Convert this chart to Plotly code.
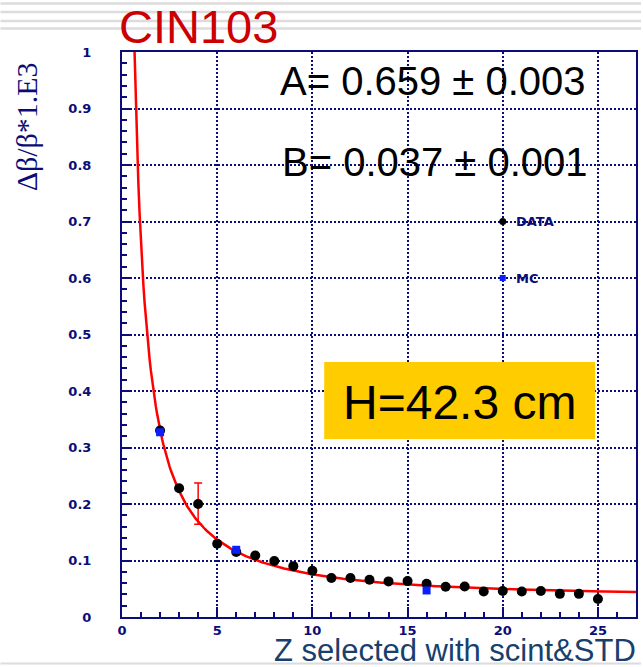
import numpy as np
import plotly.graph_objects as go

# Measured resolution vs charge Z
data_z = [2, 3, 4, 5, 6, 7, 8, 9, 10, 11, 12, 13, 14, 15, 16, 17, 18, 19, 20, 21, 22, 23, 24, 25]
data_res = [0.330, 0.228, 0.200, 0.1295, 0.115, 0.109, 0.099, 0.090, 0.082, 0.069, 0.069, 0.066,
            0.063, 0.0635, 0.059, 0.0535, 0.054, 0.045, 0.046, 0.045, 0.046, 0.041, 0.041, 0.032]
data_err_hi = [0, 0, 0.037, 0, 0, 0, 0, 0, 0, 0, 0, 0, 0, 0, 0, 0, 0, 0, 0, 0, 0, 0, 0, 0]
data_err_lo = [0, 0, 0.036, 0, 0, 0, 0, 0, 0, 0, 0, 0, 0, 0, 0, 0, 0, 0, 0, 0, 0, 0, 0, 0]

# Monte Carlo points
mc_z = [2, 6, 16]
mc_res = [0.327, 0.119, 0.047]

# Fit parameters: sigma = sqrt((A/Z)^2 + B^2)
fit_A, fit_A_err = 0.659, 0.003
fit_B, fit_B_err = 0.037, 0.001

x_tickvals = [0, 5, 10, 15, 20, 25]
x_ticktext = ["0", "5", "10", "15", "20", "25"]
y_tickvals = [0, 0.1, 0.2, 0.3, 0.4, 0.5, 0.6, 0.7, 0.8, 0.9, 1.0]
y_ticktext = ["0", "0.1", "0.2", "0.3", "0.4", "0.5", "0.6", "0.7", "0.8", "0.9", "1"]

NAVY = "#0c0c78"
W, H = 643, 667
ML, MR, MT, MB = 122, 5, 52, 50
PW, PH = W - ML - MR, H - MT - MB


def px(xp):
    return (xp - ML) / PW


def py(yp):
    return (H - MB - yp) / PH


z_fit = np.linspace(fit_A, 27, 400)
res_fit = np.sqrt((fit_A / z_fit) ** 2 + fit_B ** 2)

fig = go.Figure()

fig.add_trace(go.Scatter(x=z_fit, y=res_fit, mode="lines",
                         line=dict(color="#ff0000", width=2.5), hoverinfo="skip"))

fig.add_trace(go.Scatter(
    x=data_z, y=data_res, mode="markers",
    marker=dict(color="black", size=10),
    error_y=dict(type="data", symmetric=False, array=data_err_hi, arrayminus=data_err_lo,
                 color="#ff0000", thickness=1.5, width=4),
))

fig.add_trace(go.Scatter(x=mc_z, y=mc_res, mode="markers",
                         marker=dict(color="#0a1eff", size=8, symbol="square")))

# key markers
fig.add_trace(go.Scatter(x=[20], y=[0.7], mode="markers", marker=dict(color="black", size=7)))
fig.add_trace(go.Scatter(x=[20], y=[0.6], mode="markers",
                         marker=dict(color="#0a1eff", size=6, symbol="square")))

tick_font = dict(family="DejaVu Sans, sans-serif", size=13, color=NAVY, weight="bold")

axis_common = dict(
    showline=True, mirror=True, linecolor=NAVY, linewidth=2,
    showgrid=True, gridcolor=NAVY, griddash="2px,2px", gridwidth=2,
    zeroline=False, ticks="inside", tickcolor=NAVY, tickwidth=1.5,
)

fig.update_xaxes(range=[0, 27], tickmode="array", tickvals=x_tickvals, ticktext=x_ticktext,
                 ticklen=10, tickfont=tick_font,
                 minor=dict(ticks="inside", dtick=1, ticklen=5, tickcolor=NAVY, showgrid=False),
                 ticklabelstandoff=0, **axis_common)
fig.update_yaxes(range=[0, 1.0], tickmode="array", tickvals=y_tickvals, ticktext=y_ticktext,
                 ticklen=8, tickfont=tick_font,
                 minor=dict(ticks="inside", dtick=0.02, ticklen=5, tickcolor=NAVY, showgrid=False),
                 ticklabelstandoff=26, **axis_common)

shapes = []
# slide rule lines
for yp in [3.5, 12, 21, 28.5]:
    shapes.append(dict(type="line", xref="paper", yref="paper", x0=px(0), x1=px(W),
                       y0=py(yp), y1=py(yp), line=dict(color="#dcdcdc", width=2.5)))
shapes.append(dict(type="line", xref="paper", yref="paper", x0=px(0), x1=px(W),
                   y0=py(663.5), y1=py(663.5), line=dict(color="#dcdcdc", width=2)))
# yellow box
shapes.append(dict(type="rect", xref="paper", yref="paper", layer="above",
                   x0=px(325), x1=px(597), y0=py(439), y1=py(362),
                   fillcolor="#ffcc00", line=dict(width=0)))

annotations = [
    dict(text="CIN103", xref="paper", yref="paper", x=px(117), y=py(27), xanchor="left",
         yanchor="middle", showarrow=False,
         font=dict(family="Liberation Sans", size=47, color="#cc0000")),
    dict(text=f"A= {fit_A:.3f} ± {fit_A_err:.3f}", xref="paper", yref="paper", x=px(590), y=py(81),
         xanchor="right", yanchor="middle", showarrow=False,
         font=dict(family="Liberation Sans", size=40, color="black")),
    dict(text=f"B= {fit_B:.3f} ± {fit_B_err:.3f}", xref="paper", yref="paper", x=px(592), y=py(162),
         xanchor="right", yanchor="middle", showarrow=False,
         font=dict(family="Liberation Sans", size=40, color="black")),
    dict(text="H=42.3 cm", xref="paper", yref="paper", x=px(461), y=py(402),
         xanchor="center", yanchor="middle", showarrow=False,
         font=dict(family="Liberation Sans", size=48, color="black")),
    dict(text="DATA", x=20, y=0.7, xref="x", yref="y", xanchor="left", yanchor="middle",
         xshift=11, showarrow=False, font=dict(family="DejaVu Sans", size=13, color=NAVY, weight="bold")),
    dict(text="MC", x=20, y=0.6, xref="x", yref="y", xanchor="left", yanchor="middle",
         xshift=11, showarrow=False, font=dict(family="DejaVu Sans", size=13, color=NAVY, weight="bold")),
    dict(text="Δβ/β*1.E3", xref="paper", yref="paper", x=px(27), y=py(127), textangle=-90,
         xanchor="center", yanchor="middle", showarrow=False,
         font=dict(family="Liberation Serif", size=30, color=NAVY)),
    dict(text="Z selected with scint&STD", xref="paper", yref="paper", x=px(639), y=py(650),
         xanchor="right", yanchor="middle", showarrow=False, borderpad=0,
         font=dict(family="Liberation Sans", size=31, color="#17406d")),
]

fig.update_layout(
    width=W, height=H, margin=dict(l=ML, r=MR, t=MT, b=MB),
    paper_bgcolor="white", plot_bgcolor="white", showlegend=False,
    shapes=shapes, annotations=annotations,
)

fig.write_html("out.html")
